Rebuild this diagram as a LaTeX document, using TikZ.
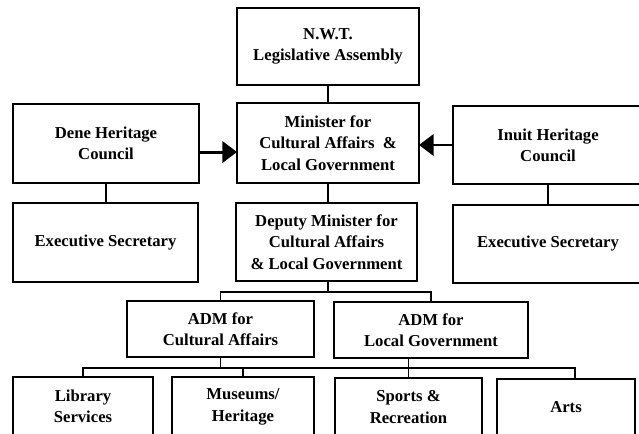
\documentclass[tikz,border=0pt]{standalone}
\usepackage{fontspec}
\setmainfont{Liberation Serif}
\usetikzlibrary{arrows.meta}
% box from corner (#2,#3) to corner (#4,#5), named #1, text #6
\newcommand\orgbox[6]{%
  \node[box, minimum width={(#4-#2)*0.75pt}, minimum height={(#5-#3)*0.75pt}]
    (#1) at ({(#2+#4)/2},{(#3+#5)/2}) {#6};}
\begin{document}
\begin{tikzpicture}[x=0.75pt,y=-0.75pt,
  box/.style={draw, line width=1.7pt, inner sep=0pt, outer sep=0pt,
    align=center, font=\bfseries\fontsize{12.5}{16}\selectfont},
  link/.style={line width=1.4pt},
  feed/.style={line width=2.2pt, -{Triangle[length=11pt,width=16pt]}}]
\useasboundingbox (0,0) rectangle (639,433);
\fill[white] (0,0) rectangle (639,433);

% central chain
\orgbox{nwt}{237}{8}{419}{85}{N.W.T.\\Legislative Assembly}
\orgbox{min}{237}{103}{419}{183}{Minister for\\Cultural Affairs \ \&\\Local Government}
\orgbox{dep}{236}{203}{417}{281}{Deputy Minister for\\Cultural Affairs\\\& Local Government}

% heritage councils
\orgbox{dene}{13}{104}{199}{183}{Dene Heritage\\Council}
\orgbox{inuit}{453}{106}{643}{184}{Inuit Heritage\\Council}
\orgbox{dexec}{13}{203}{198}{282}{Executive Secretary}
\orgbox{iexec}{453}{205}{643}{283}{Executive Secretary}

% assistant deputy ministers
\orgbox{adm1}{127}{301}{314}{357}{ADM for\\Cultural Affairs}
\orgbox{adm2}{334}{302}{528}{358}{ADM for\\Local Government}

% divisions
\orgbox{lib}{13}{377}{153}{436}{Library\\Services}
\orgbox{mus}{172}{377}{314}{437}{Museums/\\Heritage}
\orgbox{spo}{335}{378}{482}{436}{Sports \&\\Recreation}
\orgbox{arts}{497}{379}{635}{436}{Arts}

% reporting lines
\draw[link] (nwt.south) -- (min.north);
\draw[link] (min.south) -- (min.south |- dep.north);
\draw[link] (dene.south) -- (dene.south |- dexec.north);
\draw[link] (inuit.south) -- (iexec.north);

\draw[feed] ([yshift=-6.4pt]dene.east) -- ([yshift=-6.4pt]dene.east -| min.west);
\draw[feed] (inuit.west) -- (inuit.west -| min.east);

\coordinate (dbar) at (328,292);
\draw[link] (dep.south -| dbar) -- (dbar);
\draw[link] (adm1.north) |- (dbar) -| (adm2.north);

\coordinate (bL) at (83,368);
\coordinate (bR) at (575,368);
\draw[link] (lib.north) -- (bL) -- (bR) -- (bR |- arts.north);
\draw[link] (mus.north) -- (mus.north |- bL);
\draw[link] (adm1.south) -- (adm1.south |- bL);
\draw[link] (spo.north) -- (spo.north |- adm2.south);
\end{tikzpicture}
\end{document}
